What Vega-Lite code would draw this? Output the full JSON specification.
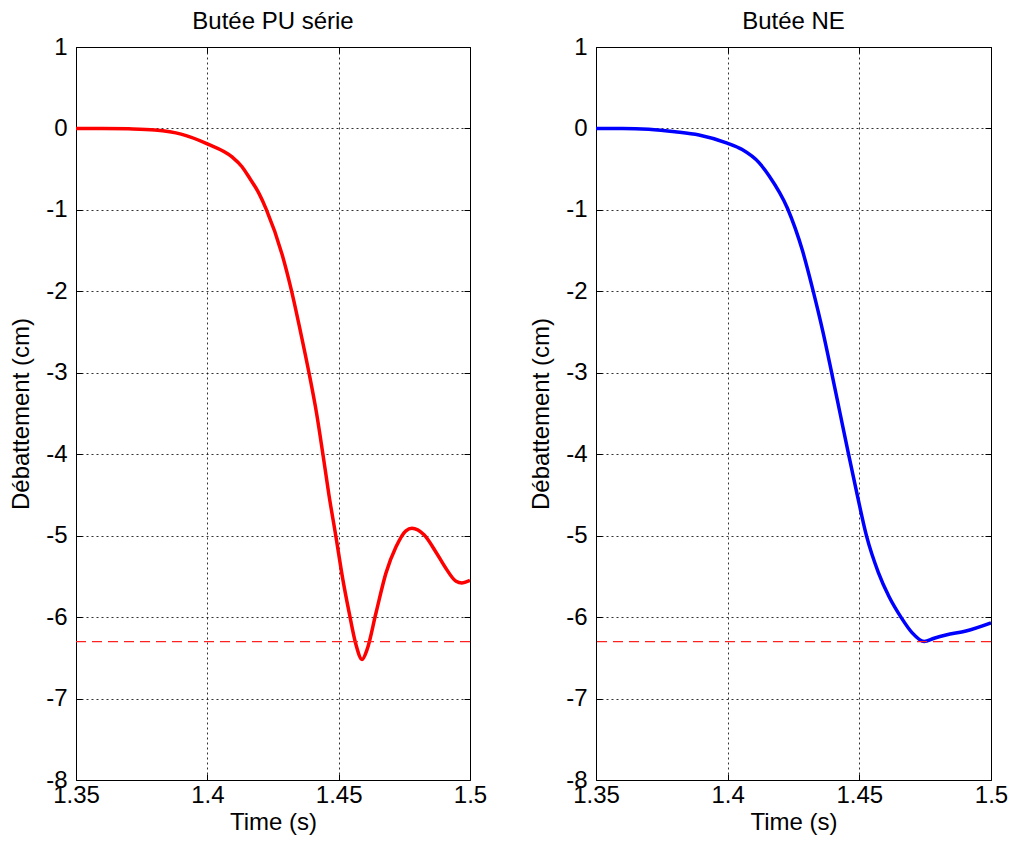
{
  "$schema": "https://vega.github.io/schema/vega-lite/v6.json",
  "background": "white",
  "padding": {"left": 9, "top": 9, "right": 5, "bottom": 2},
  "datasets": {
    "pu": [
      {"t": 1.35, "y": 0}, {"t": 1.36, "y": 0}, {"t": 1.37, "y": -0.005}, {"t": 1.38, "y": -0.02},
      {"t": 1.39, "y": -0.07}, {"t": 1.40, "y": -0.19}, {"t": 1.4094, "y": -0.35}, {"t": 1.4132, "y": -0.47},
      {"t": 1.4159, "y": -0.60}, {"t": 1.4197, "y": -0.80}, {"t": 1.4224, "y": -0.99}, {"t": 1.4285, "y": -1.55},
      {"t": 1.4321, "y": -2.0}, {"t": 1.4355, "y": -2.5}, {"t": 1.4387, "y": -3.0}, {"t": 1.4416, "y": -3.5},
      {"t": 1.444, "y": -4.0}, {"t": 1.4463, "y": -4.5}, {"t": 1.4489, "y": -5.0}, {"t": 1.4516, "y": -5.54},
      {"t": 1.4539, "y": -5.93}, {"t": 1.4566, "y": -6.34}, {"t": 1.4589, "y": -6.52}, {"t": 1.4608, "y": -6.40},
      {"t": 1.4642, "y": -5.95}, {"t": 1.468, "y": -5.46}, {"t": 1.4718, "y": -5.14}, {"t": 1.4756, "y": -4.94},
      {"t": 1.4779, "y": -4.91}, {"t": 1.4825, "y": -4.99}, {"t": 1.487, "y": -5.20}, {"t": 1.4908, "y": -5.40},
      {"t": 1.4947, "y": -5.56}, {"t": 1.4969, "y": -5.58}, {"t": 1.5, "y": -5.55}
    ],
    "ne": [
      {"t": 1.35, "y": 0}, {"t": 1.36, "y": 0}, {"t": 1.37, "y": -0.01}, {"t": 1.38, "y": -0.04},
      {"t": 1.3891, "y": -0.08}, {"t": 1.3998, "y": -0.18}, {"t": 1.4055, "y": -0.26}, {"t": 1.4119, "y": -0.42},
      {"t": 1.4157, "y": -0.58}, {"t": 1.4227, "y": -0.98}, {"t": 1.4284, "y": -1.5}, {"t": 1.4325, "y": -2.0},
      {"t": 1.4362, "y": -2.5}, {"t": 1.4395, "y": -3.0}, {"t": 1.4427, "y": -3.5}, {"t": 1.4459, "y": -4.0},
      {"t": 1.4492, "y": -4.5}, {"t": 1.4527, "y": -5.0}, {"t": 1.4572, "y": -5.45}, {"t": 1.4613, "y": -5.75},
      {"t": 1.4658, "y": -6.0}, {"t": 1.47, "y": -6.19}, {"t": 1.4746, "y": -6.30}, {"t": 1.4784, "y": -6.26},
      {"t": 1.4829, "y": -6.22}, {"t": 1.4905, "y": -6.17}, {"t": 1.5, "y": -6.07}
    ],
    "limit": [{"y": -6.3}]
  },
  "config": {
    "font": "Liberation Sans",
    "view": {"stroke": "black", "strokeWidth": 1},
    "axis": {
      "labelFont": "Liberation Sans", "labelFontSize": 24, "labelColor": "black",
      "titleFont": "Liberation Sans", "titleFontSize": 24, "titleFontWeight": "normal", "titleColor": "black",
      "domain": false, "ticks": true, "tickSize": -6, "tickColor": "black", "tickWidth": 1,
      "grid": true, "gridColor": "black", "gridDash": [2, 3], "gridOpacity": 0.8, "gridWidth": 1
    },
    "title": {"font": "Liberation Sans", "fontSize": 24, "fontWeight": "normal", "color": "black", "offset": 1}
  },
  "spacing": 41,
  "hconcat": [
    {
      "title": "Butée PU série",
      "width": 394, "height": 733,
      "resolve": {"axis": {"x": "independent", "y": "independent"}},
      "layer": [
        {
          "data": {"name": "pu"},
          "mark": {"type": "line", "stroke": "#ff0000", "strokeWidth": 3.5, "interpolate": "monotone", "clip": true},
          "encoding": {
            "x": {"field": "t", "type": "quantitative", "scale": {"domain": [1.35, 1.5], "nice": false, "zero": false},
                  "axis": {"title": "Time (s)", "values": [1.35, 1.4, 1.45, 1.5], "labelExpr": "datum.value + ''", "labelPadding": 9, "titlePadding": 3, "labelFlush": false}},
            "y": {"field": "y", "type": "quantitative", "scale": {"domain": [-8, 1], "nice": false, "zero": false},
                  "axis": {"title": "Débattement (cm)", "values": [-8, -7, -6, -5, -4, -3, -2, -1, 0, 1], "labelExpr": "datum.value + ''", "labelPadding": 15, "titlePadding": 12}}
          }
        },
        {
          "data": {"name": "pu"},
          "mark": {"type": "line", "opacity": 0, "clip": true},
          "encoding": {
            "x": {"field": "t", "type": "quantitative", "axis": {"orient": "top", "values": [1.35, 1.4, 1.45, 1.5], "labels": false, "grid": false, "title": null}},
            "y": {"field": "y", "type": "quantitative", "axis": {"orient": "right", "values": [-8, -7, -6, -5, -4, -3, -2, -1, 0, 1], "labels": false, "grid": false, "title": null}}
          }
        },
        {
          "data": {"name": "limit"},
          "mark": {"type": "rule", "stroke": "#ff2020", "strokeWidth": 1.3, "strokeDash": [10, 6], "opacity": 1},
          "encoding": {"y": {"field": "y", "type": "quantitative", "axis": null}}
        }
      ]
    },
    {
      "title": "Butée NE",
      "width": 395, "height": 733,
      "resolve": {"axis": {"x": "independent", "y": "independent"}},
      "layer": [
        {
          "data": {"name": "ne"},
          "mark": {"type": "line", "stroke": "#0000ff", "strokeWidth": 3.5, "interpolate": "monotone", "clip": true},
          "encoding": {
            "x": {"field": "t", "type": "quantitative", "scale": {"domain": [1.35, 1.5], "nice": false, "zero": false},
                  "axis": {"title": "Time (s)", "values": [1.35, 1.4, 1.45, 1.5], "labelExpr": "datum.value + ''", "labelPadding": 9, "titlePadding": 3, "labelFlush": false}},
            "y": {"field": "y", "type": "quantitative", "scale": {"domain": [-8, 1], "nice": false, "zero": false},
                  "axis": {"title": "Débattement (cm)", "values": [-8, -7, -6, -5, -4, -3, -2, -1, 0, 1], "labelExpr": "datum.value + ''", "labelPadding": 15, "titlePadding": 12}}
          }
        },
        {
          "data": {"name": "ne"},
          "mark": {"type": "line", "opacity": 0, "clip": true},
          "encoding": {
            "x": {"field": "t", "type": "quantitative", "axis": {"orient": "top", "values": [1.35, 1.4, 1.45, 1.5], "labels": false, "grid": false, "title": null}},
            "y": {"field": "y", "type": "quantitative", "axis": {"orient": "right", "values": [-8, -7, -6, -5, -4, -3, -2, -1, 0, 1], "labels": false, "grid": false, "title": null}}
          }
        },
        {
          "data": {"name": "limit"},
          "mark": {"type": "rule", "stroke": "#ff2020", "strokeWidth": 1.3, "strokeDash": [10, 6], "opacity": 1},
          "encoding": {"y": {"field": "y", "type": "quantitative", "axis": null}}
        }
      ]
    }
  ]
}
